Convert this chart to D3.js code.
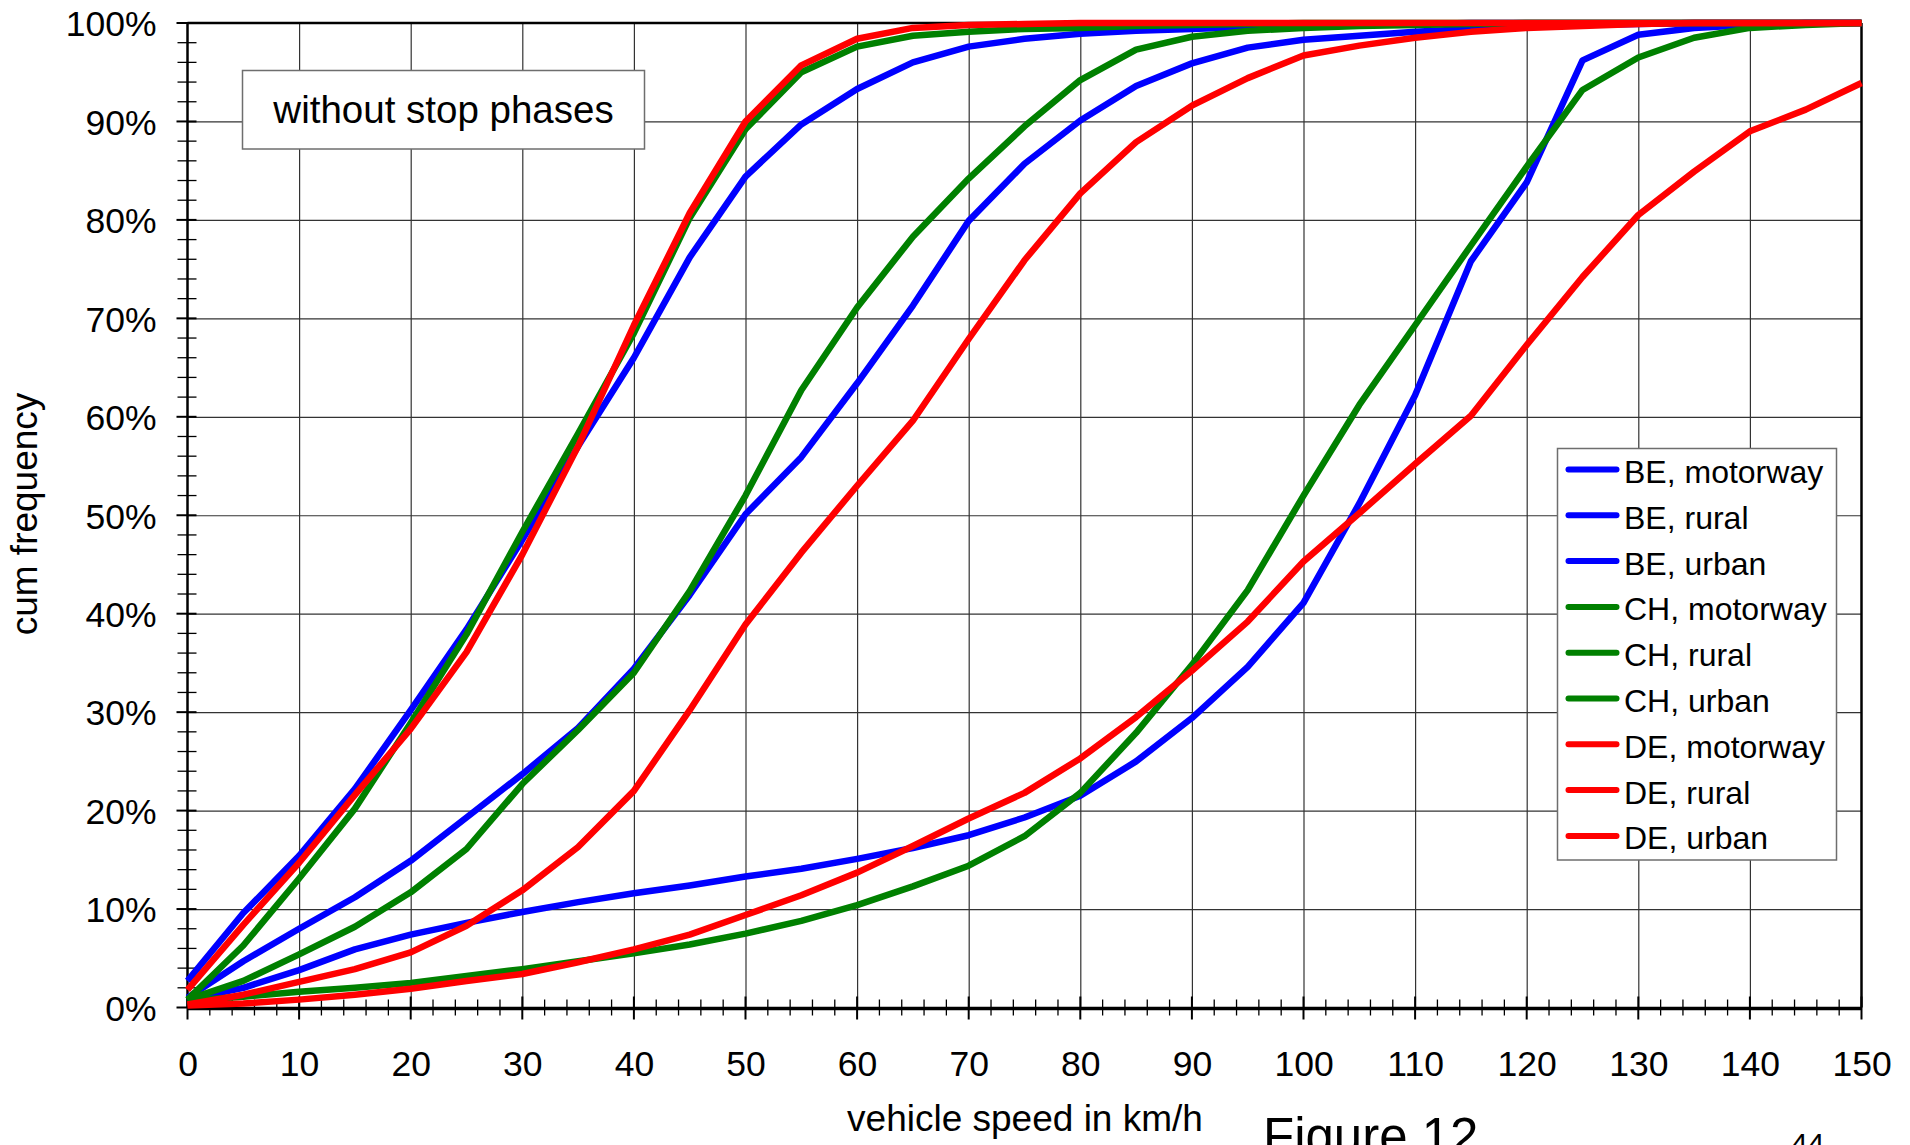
<!DOCTYPE html>
<html>
<head>
<meta charset="utf-8">
<script src="https://cdn.jsdelivr.net/npm/d3@7"></script>
<style>
  body { margin: 0; background: #fff; }
  text { font-family: "Liberation Sans", Arial, sans-serif; fill: #000; }
</style>
</head>
<body>
<script>
// cumulative speed distributions, one value every 5 km/h (0..150)
var speeds = d3.range(0, 151, 5);
var xTicks = d3.range(0, 151, 10);
var yTicks = d3.range(0, 101, 10);

var seriesNames = ['BE, motorway', 'BE, rural', 'BE, urban',
  'CH, motorway', 'CH, rural', 'CH, urban',
  'DE, motorway', 'DE, rural', 'DE, urban'];
var seriesColors = ['#0000ff', '#0000ff', '#0000ff',
  '#008000', '#008000', '#008000',
  '#ff0000', '#ff0000', '#ff0000'];

var beMotorway = [0.8, 2.0, 3.8, 5.9, 7.4, 8.6, 9.7, 10.7, 11.6, 12.4, 13.3, 14.1, 15.1, 16.2, 17.5, 19.3,
  21.5, 25.0, 29.4, 34.6, 41.1, 51.2, 62.2, 75.8, 83.8, 96.2, 98.8, 99.5, 99.8, 100, 100];
var beRural = [1.0, 4.7, 8.0, 11.2, 14.9, 19.3, 23.7, 28.4, 34.4, 41.9, 50.1, 55.9, 63.4, 71.3, 79.9, 85.7,
  90.1, 93.6, 95.9, 97.5, 98.3, 98.7, 99.1, 99.4, 99.6, 99.8, 99.9, 100, 100, 100, 100];
var beUrban = [2.7, 9.6, 15.4, 22.2, 30.2, 38.4, 47.5, 57.0, 66.0, 76.2, 84.4, 89.7, 93.3, 96.0, 97.6, 98.4,
  98.9, 99.2, 99.4, 99.6, 99.7, 99.8, 99.9, 100, 100, 100, 100, 100, 100, 100, 100];
var chMotorway = [0.7, 1.1, 1.6, 2.0, 2.5, 3.2, 3.9, 4.7, 5.5, 6.4, 7.5, 8.8, 10.4, 12.3, 14.4, 17.4,
  21.8, 27.9, 34.8, 42.4, 52.0, 61.2, 69.3, 77.4, 85.4, 93.2, 96.5, 98.5, 99.5, 99.8, 100];
var chRural = [0.8, 2.7, 5.4, 8.2, 11.7, 16.1, 22.7, 28.2, 34.0, 42.3, 52.0, 62.7, 71.1, 78.3, 84.2, 89.5,
  94.2, 97.3, 98.6, 99.2, 99.5, 99.7, 99.8, 99.9, 100, 100, 100, 100, 100, 100, 100];
var chUrban = [0.8, 6.3, 13.1, 20.2, 28.9, 37.9, 48.3, 58.3, 68.5, 80.2, 89.2, 95.0, 97.6, 98.7, 99.1, 99.4,
  99.5, 99.7, 99.8, 99.9, 100, 100, 100, 100, 100, 100, 100, 100, 100, 100, 100];
var deMotorway = [0.2, 0.4, 0.8, 1.3, 1.9, 2.7, 3.4, 4.6, 5.9, 7.4, 9.4, 11.4, 13.7, 16.4, 19.2, 21.8,
  25.3, 29.5, 34.2, 39.2, 45.3, 50.2, 55.2, 60.1, 67.3, 74.2, 80.5, 84.9, 89.0, 91.2, 93.9];
var deRural = [0.3, 1.3, 2.6, 3.9, 5.6, 8.3, 11.9, 16.3, 22.0, 30.2, 38.9, 46.2, 53.0, 59.6, 67.9, 75.9,
  82.7, 87.9, 91.6, 94.4, 96.7, 97.7, 98.5, 99.1, 99.5, 99.7, 99.9, 100, 100, 100, 100];
var deUrban = [1.8, 8.4, 14.7, 21.6, 28.3, 36.1, 46.0, 57.0, 69.3, 80.7, 90.0, 95.7, 98.4, 99.5, 99.8, 99.9,
  100, 100, 100, 100, 100, 100, 100, 100, 100, 100, 100, 100, 100, 100, 100];

var seriesValues = [beMotorway, beRural, beUrban, chMotorway, chRural, chUrban, deMotorway, deRural, deUrban];

var W = 1910, H = 1145;
var svg = d3.select('body').append('svg').attr('width', W).attr('height', H);

var x = d3.scaleLinear().domain([0, 150]).range([187.5, 1861.5]);
var y = d3.scaleLinear().domain([0, 100]).range([1007.5, 23]);

//grid lines
svg.append('g')
  .attr('transform', 'translate(0,' + y(0) + ')')
  .call(d3.axisBottom(x).tickValues(d3.range(10, 150, 10)).tickSize(-(y(0) - y(100))).tickFormat(''))
  .call(function (g) { g.select('.domain').remove(); })
  .selectAll('line').attr('stroke', '#333').attr('stroke-width', 1.2);
svg.append('g')
  .attr('transform', 'translate(' + x(0) + ',0)')
  .call(d3.axisLeft(y).tickValues(d3.range(10, 100, 10)).tickSize(-(x(150) - x(0))).tickFormat(''))
  .call(function (g) { g.select('.domain').remove(); })
  .selectAll('line').attr('stroke', '#333').attr('stroke-width', 1.2);

//frame
svg.append('line').attr('x1', x(0)).attr('x2', x(150)).attr('y1', y(100)).attr('y2', y(100))
  .attr('stroke', '#000').attr('stroke-width', 2.5);
svg.append('line').attr('x1', x(150)).attr('x2', x(150)).attr('y1', y(100)).attr('y2', y(0))
  .attr('stroke', '#000').attr('stroke-width', 2.5);
svg.append('line').attr('x1', x(0)).attr('x2', x(0)).attr('y1', y(100)).attr('y2', y(0))
  .attr('stroke', '#000').attr('stroke-width', 2.5);

//minor ticks crossing the axes
svg.append('g').selectAll('line').data(d3.range(0, 101, 2)).enter().append('line')
  .attr('x1', function (d) { return d % 10 == 0 ? x(0) - 11 : x(0) - 10; })
  .attr('x2', x(0) + 9)
  .attr('y1', function (d) { return y(d); }).attr('y2', function (d) { return y(d); })
  .attr('stroke', '#000').attr('stroke-width', function (d) { return d % 10 == 0 ? 2 : 1.3; });
svg.append('g').selectAll('line').data(d3.range(0, 151, 2)).enter().append('line')
  .attr('x1', function (d) { return x(d); }).attr('x2', function (d) { return x(d); })
  .attr('y1', function (d) { return d % 10 == 0 ? y(0) - 11 : y(0) - 8; })
  .attr('y2', function (d) { return d % 10 == 0 ? y(0) + 12 : y(0) + 8; })
  .attr('stroke', '#000').attr('stroke-width', function (d) { return d % 10 == 0 ? 2 : 1.3; });

//tick labels
var xAxis = svg.append('g')
  .attr('transform', 'translate(0,' + y(0) + ')')
  .call(d3.axisBottom(x).tickValues(xTicks).tickSize(0).tickPadding(43));
xAxis.select('.domain').remove();
xAxis.selectAll('text').attr('font-size', 35.5).attr('font-family', '"Liberation Sans", Arial, sans-serif');

var yAxis = svg.append('g')
  .attr('transform', 'translate(' + x(0) + ',0)')
  .call(d3.axisLeft(y).tickValues(yTicks).tickSize(0).tickPadding(31).tickFormat(function (d) { return d + '%'; }));
yAxis.select('.domain').remove();
yAxis.selectAll('text').attr('font-size', 35.5).attr('dy', '0.36em').attr('font-family', '"Liberation Sans", Arial, sans-serif');

// x axis line on top of the ticks
svg.append('line').attr('x1', x(0)).attr('x2', x(150)).attr('y1', y(0) + 1).attr('y2', y(0) + 1)
  .attr('stroke', '#000').attr('stroke-width', 3.5);

//curves
var line = d3.line()
  .x(function (d, i) { return x(speeds[i]); })
  .y(function (d) { return y(d); });

svg.append('g').selectAll('path').data(seriesValues).enter().append('path')
  .attr('d', line)
  .attr('fill', 'none')
  .attr('stroke', function (d, i) { return seriesColors[i]; })
  .attr('stroke-width', 6.5)
  .attr('stroke-linejoin', 'round');

//note box
svg.append('rect').attr('x', 242.5).attr('y', 70.5).attr('width', 402).attr('height', 78.5)
  .attr('fill', '#fff').attr('stroke', '#6e6e6e').attr('stroke-width', 1.5);
svg.append('text').attr('x', 443.5).attr('y', 123).attr('text-anchor', 'middle')
  .attr('font-size', 38.5).text('without stop phases');

//legend
var leg = svg.append('g').attr('transform', 'translate(1557.5,448.5)');
leg.append('rect').attr('width', 279).attr('height', 411.5)
  .attr('fill', '#fff').attr('stroke', '#6e6e6e').attr('stroke-width', 1.5);
var rows = leg.selectAll('g.row').data(seriesNames).enter().append('g')
  .attr('class', 'row')
  .attr('transform', function (d, i) { return 'translate(0,' + (21 + i * 45.8) + ')'; });
rows.append('line').attr('x1', 11).attr('x2', 59)
  .attr('stroke', function (d, i) { return seriesColors[i]; })
  .attr('stroke-width', 6).attr('stroke-linecap', 'round');
rows.append('text').attr('x', 66.5).attr('y', 13.4).attr('font-size', 32).text(function (d) { return d; });

//axis titles and page furniture
svg.append('text').attr('x', 1025).attr('y', 1131).attr('text-anchor', 'middle')
  .attr('font-size', 37).text('vehicle speed in km/h');
svg.append('text').attr('transform', 'translate(37,514) rotate(-90)').attr('text-anchor', 'middle')
  .attr('font-size', 37).text('cum frequency');
svg.append('text').attr('x', 1263).attr('y', 1154).attr('font-size', 51).text('Figure 12');
svg.append('text').attr('x', 1791).attr('y', 1154).attr('font-size', 30).text('44');
</script>
</body>
</html>
